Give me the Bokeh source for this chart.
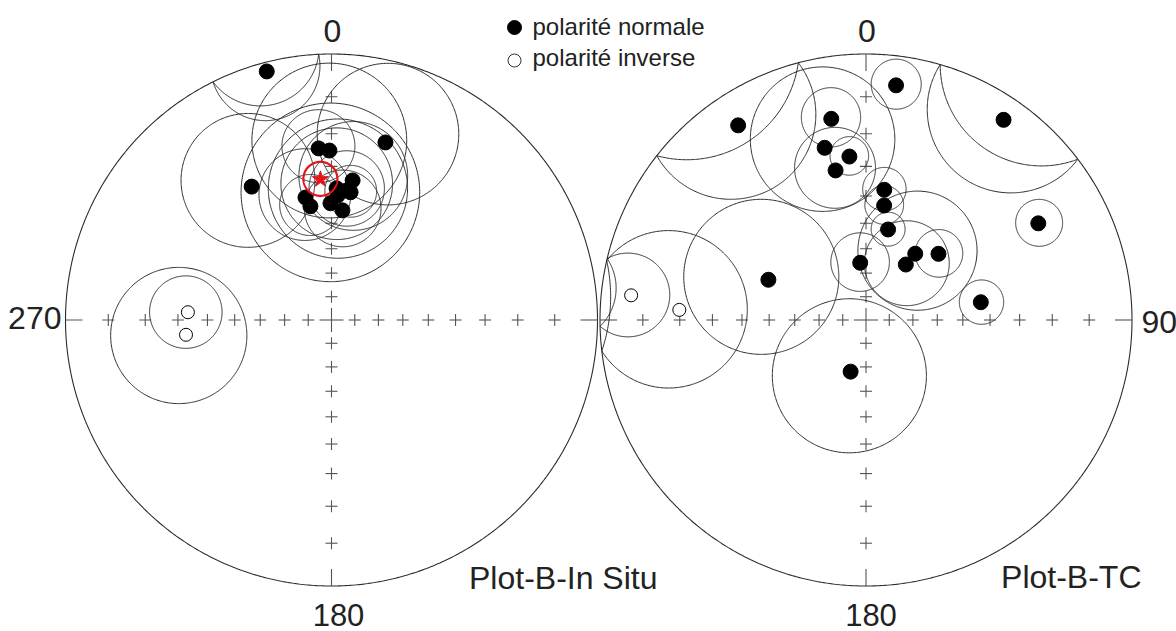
import numpy as np
from bokeh.plotting import figure
from bokeh.models import Range1d
from bokeh.core.properties import value
from bokeh.embed import file_html
from bokeh.resources import INLINE

# ---------------- data (declination, inclination, alpha95 in degrees) ----------------
# In situ, normal polarity sites
insitu_dec = [345.4, 16.9, 329.1, 355.7, 359.3, 8.6, 6.6, 348.0, 349.5, 359.5, 5.7, 2.8, 8.5, 2.2]
insitu_inc = [2.0, 20.2, 29.4, 24.2, 25.0, 34.1, 37.8, 39.6, 43.0, 42.6, 45.0, 39.8, 38.2, 37.3]
insitu_a95 = [12.0, 20.0, 21.0, 11.0, 23.0, 18.0, 13.0, 16.0, 11.0, 31.0, 14.0, 24.0, 9.0, 19.0]
# In situ, reverse polarity sites (upper hemisphere)
insitu_rev_dec = [273.1, 264.2]
insitu_rev_inc = [-33.2, -32.4]
insitu_rev_a95 = [12.0, 22.0]
# In situ mean direction
mean_dec, mean_inc, mean_a95 = 355.5, 34.1, 5.7

# Tilt corrected, normal polarity sites
tc_dec = [7.3, 326.7, 34.5, 350.2, 346.5, 354.2, 348.5, 8.0, 9.0, 13.7, 60.7, 36.6, 35.7, 47.6, 354.2, 292.4, 81.2, 196.6]
tc_inc = [6.7, 7.6, 5.2, 15.0, 22.7, 26.6, 30.3, 37.4, 42.9, 51.4, 16.8, 55.5, 61.2, 49.5, 65.6, 46.7, 42.8, 67.1]
tc_a95 = [6.0, 20.0, 19.0, 8.0, 21.0, 6.0, 13.0, 7.5, 7.0, 6.5, 6.5, 23.0, 17.0, 9.0, 12.0, 28.0, 8.0, 31.0]
# Tilt corrected, reverse polarity sites
tc_rev_dec = [276.0, 273.1]
tc_rev_inc = [-6.8, -19.8]
tc_rev_a95 = [10.0, 22.0]

# net tick colatitudes
tick_colat = [10, 20, 30, 40, 50, 60, 70, 80]

axis_labels_left = ["0", "270", "180"]
axis_labels_right = ["0", "90", "180"]
titles = ["Plot-B-In Situ", "Plot-B-TC"]
legend_labels = ["polarité normale", "polarité inverse"]

# ---------------- layout ----------------
W, H = 1176, 631
R = 266.0
CY = 319.5
CX_L, CX_R = 331.0, 865.5
FONT = value("Liberation Sans")
LINE = "#2b2b2b"
TICK = "#555555"
TY = -11  # baseline correction for svg text

p = figure(width=W, height=H, x_range=Range1d(0, W), y_range=Range1d(H, 0),
           output_backend="svg", toolbar_location=None, min_border=0)
p.axis.visible = False
p.grid.visible = False
p.outline_line_color = None
p.background_fill_color = "white"
p.border_fill_color = "white"


def dir_vec(dec, inc):
    d, i = np.radians(dec), np.radians(inc)
    return np.array([np.cos(i) * np.cos(d), np.cos(i) * np.sin(d), np.sin(i)])


def proj(v):
    n, e, z = v
    z = np.abs(z)  # upper hemisphere folded onto the net
    return e / (1 + z), n / (1 + z)


def cone(dec, inc, a95, npts=400):
    c = dir_vec(dec, abs(inc))
    tmp = np.array([0.0, 0.0, 1.0]) if abs(c[2]) < 0.9 else np.array([1.0, 0.0, 0.0])
    u = np.cross(c, tmp)
    u /= np.linalg.norm(u)
    w = np.cross(c, u)
    t = np.linspace(0, 2 * np.pi, npts)
    a = np.radians(a95)
    pts = np.cos(a) * c[:, None] + np.sin(a) * (np.cos(t) * u[:, None] + np.sin(t) * w[:, None])
    return proj(pts)


def to_screen(cx, ux, uy):
    return cx + R * np.asarray(ux), CY - R * np.asarray(uy)


def draw_net(cx):
    t = np.linspace(0, 2 * np.pi, 720)
    p.line(cx + R * np.cos(t), CY + R * np.sin(t), line_color=LINE, line_width=1.1)
    xs, ys = [], []
    arm = 6
    for th in tick_colat:
        r = np.tan(np.radians(th) / 2) * R
        for dx, dy in [(r, 0), (-r, 0), (0, r), (0, -r)]:
            x, y = cx + dx, CY + dy
            xs += [[x - arm, x + arm], [x, x]]
            ys += [[y, y], [y - arm, y + arm]]
    big = 12
    xs += [[cx - big, cx + big], [cx, cx]]
    ys += [[CY, CY], [CY - big, CY + big]]
    L = 17
    xs += [[cx - R, cx - R + L], [cx + R, cx + R - L], [cx, cx], [cx, cx]]
    ys += [[CY, CY], [CY, CY], [CY - R, CY - R + L], [CY + R, CY + R - L]]
    p.multi_line(xs, ys, line_color=TICK, line_width=1.1)


def draw_sites(cx, decs, incs, a95s, filled):
    xs, ys = [], []
    for d, i, a in zip(decs, incs, a95s):
        ux, uy = cone(d, i, a)
        sx, sy = to_screen(cx, ux, uy)
        xs.append(list(sx))
        ys.append(list(sy))
    p.multi_line(xs, ys, line_color=LINE, line_width=1.0)
    px, py = [], []
    for d, i in zip(decs, incs):
        ux, uy = proj(dir_vec(d, i)[:, None])
        sx, sy = to_screen(cx, ux, uy)
        px.append(float(sx[0]))
        py.append(float(sy[0]))
    if filled:
        p.scatter(px, py, marker="circle", size=15, fill_color="black", line_color="black")
    else:
        p.scatter(px, py, marker="circle", size=13, fill_color="white", line_color="black", line_width=1.0)


draw_net(CX_L)
draw_net(CX_R)
draw_sites(CX_L, insitu_dec, insitu_inc, insitu_a95, True)
draw_sites(CX_L, insitu_rev_dec, insitu_rev_inc, insitu_rev_a95, False)
draw_sites(CX_R, tc_dec, tc_inc, tc_a95, True)
draw_sites(CX_R, tc_rev_dec, tc_rev_inc, tc_rev_a95, False)

# mean direction (red)
ux, uy = cone(mean_dec, mean_inc, mean_a95)
sx, sy = to_screen(CX_L, ux, uy)
p.line(list(sx), list(sy), line_color="#e3141b", line_width=2.2)
mx, my = proj(dir_vec(mean_dec, mean_inc)[:, None])
sx, sy = to_screen(CX_L, mx, my)
p.scatter(list(sx), list(sy), marker="star", size=17, fill_color="#e3141b", line_color="#e3141b")

# axis labels
TXT = "#222222"
p.text(x=[CX_L + 1, 61], y=[41 + TY, 328 + TY], text=axis_labels_left[:2],
       text_align=["center", "right"], text_baseline="alphabetic",
       text_font=FONT, text_font_size="32px", text_color=TXT)
p.text(x=[CX_R + 1, 1141], y=[41 + TY, 332 + TY], text=axis_labels_right[:2],
       text_align=["center", "left"], text_baseline="alphabetic",
       text_font=FONT, text_font_size="32px", text_color=TXT)
# bottom labels, anchored at the top of the glyphs so they stay inside the canvas
p.text(x=[CX_L + 7, CX_R + 5], y=[603, 603], text=[axis_labels_left[2], axis_labels_right[2]],
       text_align="center", text_baseline="top",
       text_font=FONT, text_font_size="31px", text_color=TXT)
p.text(x=[657, 1141], y=[588 + TY, 587 + TY], text=titles, text_align="right", text_baseline="alphabetic",
       text_font=FONT, text_font_size="32px", text_color=TXT)

# legend
p.scatter([514], [27], marker="circle", size=14, fill_color="black", line_color="black")
p.scatter([514], [60], marker="circle", size=13, fill_color="white", line_color="#333333", line_width=1.0)
p.text(x=[532, 532], y=[35 + TY + 2, 67 + TY + 1], text=legend_labels, text_align="left",
       text_baseline="alphabetic", text_font=FONT, text_font_size="24px", text_color=TXT)

open("out.html", "w").write(file_html(p, INLINE))
